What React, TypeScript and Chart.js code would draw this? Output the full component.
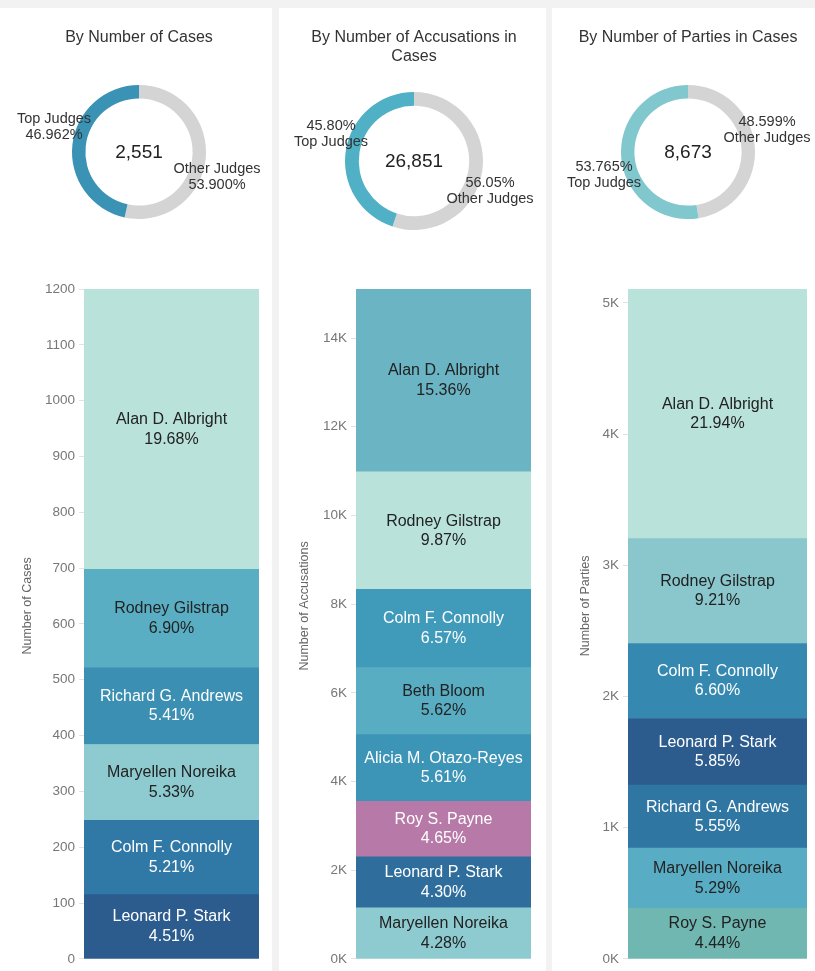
import React, { useEffect, useRef } from 'react';
import { Chart, registerables } from 'chart.js';

Chart.register(...registerables);

const FONT = "'Liberation Sans', Arial, Helvetica, sans-serif";
Chart.defaults.font.family = FONT;

// ---------- Panel 1: By Number of Cases ----------
const CASES_TITLE = ['By Number of Cases'];
const CASES_JUDGES = ['Alan D. Albright', 'Rodney Gilstrap', 'Richard G. Andrews', 'Maryellen Noreika', 'Colm F. Connolly', 'Leonard P. Stark'];
const CASES_VALUES = [502, 176, 138, 136, 133, 115];
const CASES_SHARES = ['19.68%', '6.90%', '5.41%', '5.33%', '5.21%', '4.51%'];
const CASES_AXIS_TITLE = 'Number of Cases';
const CASES_TICK_STEP = 100;
const CASES_DONUT_LABELS = ['Other Judges', 'Top Judges'];
const CASES_DONUT_VALUES = [53.9, 46.962];
const CASES_DONUT_TEXT = [['Other Judges', '53.900%'], ['Top Judges', '46.962%']];
const CASES_TOTAL = '2,551';

// ---------- Panel 2: By Number of Accusations in Cases ----------
const ACC_TITLE = ['By Number of Accusations in', 'Cases'];
const ACC_JUDGES = ['Alan D. Albright', 'Rodney Gilstrap', 'Colm F. Connolly', 'Beth Bloom', 'Alicia M. Otazo-Reyes', 'Roy S. Payne', 'Leonard P. Stark', 'Maryellen Noreika'];
const ACC_VALUES = [4124, 2650, 1764, 1509, 1506, 1249, 1155, 1149];
const ACC_SHARES = ['15.36%', '9.87%', '6.57%', '5.62%', '5.61%', '4.65%', '4.30%', '4.28%'];
const ACC_AXIS_TITLE = 'Number of Accusations';
const ACC_TICK_STEP = 2000;
const ACC_DONUT_LABELS = ['Other Judges', 'Top Judges'];
const ACC_DONUT_VALUES = [56.05, 45.8];
const ACC_DONUT_TEXT = [['56.05%', 'Other Judges'], ['45.80%', 'Top Judges']];
const ACC_TOTAL = '26,851';

// ---------- Panel 3: By Number of Parties in Cases ----------
const PARTY_TITLE = ['By Number of Parties in Cases'];
const PARTY_JUDGES = ['Alan D. Albright', 'Rodney Gilstrap', 'Colm F. Connolly', 'Leonard P. Stark', 'Richard G. Andrews', 'Maryellen Noreika', 'Roy S. Payne'];
const PARTY_VALUES = [1903, 799, 572, 507, 481, 459, 385];
const PARTY_SHARES = ['21.94%', '9.21%', '6.60%', '5.85%', '5.55%', '5.29%', '4.44%'];
const PARTY_AXIS_TITLE = 'Number of Parties';
const PARTY_TICK_STEP = 1000;
const PARTY_DONUT_LABELS = ['Other Judges', 'Top Judges'];
const PARTY_DONUT_VALUES = [48.599, 53.765];
const PARTY_DONUT_TEXT = [['48.599%', 'Other Judges'], ['53.765%', 'Top Judges']];
const PARTY_TOTAL = '8,673';

// ---------- Styles ----------
const DARK = '#222222';
const LIGHT = '#ffffff';
const OTHER_GRAY = '#d4d4d4';

const PANELS = [
  {
    title: CASES_TITLE, judges: CASES_JUDGES, values: CASES_VALUES, shares: CASES_SHARES,
    axisTitle: CASES_AXIS_TITLE, step: CASES_TICK_STEP, kFormat: false,
    donutLabels: CASES_DONUT_LABELS, donutValues: CASES_DONUT_VALUES, donutText: CASES_DONUT_TEXT, total: CASES_TOTAL,
    colors: ['#b9e3da', '#5aaec3', '#3b8fb3', '#8dcbd0', '#3079a6', '#2c5c8e'],
    textColors: [DARK, DARK, LIGHT, DARK, LIGHT, LIGHT],
    topColor: '#3a93b5',
    left: 0, width: 272,
    donutPad: { left: 72, right: 66, top: 77, bottom: 41 },
    labelPos: [{ dx: 78, dy: 17 }, { dx: -85, dy: -33 }],
    axisWidth: 84, padRight: 13, axisTitleX: 28,
  },
  {
    title: ACC_TITLE, judges: ACC_JUDGES, values: ACC_VALUES, shares: ACC_SHARES,
    axisTitle: ACC_AXIS_TITLE, step: ACC_TICK_STEP, kFormat: true,
    donutLabels: ACC_DONUT_LABELS, donutValues: ACC_DONUT_VALUES, donutText: ACC_DONUT_TEXT, total: ACC_TOTAL,
    colors: ['#6ab4c4', '#b9e3da', '#409bbb', '#59adc3', '#3c94b7', '#b77aa8', '#2f6e9c', '#8dcbd0'],
    textColors: [DARK, DARK, LIGHT, DARK, LIGHT, LIGHT, LIGHT, DARK],
    topColor: '#4fb0c6',
    left: 279, width: 267,
    donutPad: { left: 66, right: 63, top: 84, bottom: 30 },
    labelPos: [{ dx: 76, dy: 22 }, { dx: -83, dy: -35 }],
    axisWidth: 77, padRight: 15, axisTitleX: 26,
  },
  {
    title: PARTY_TITLE, judges: PARTY_JUDGES, values: PARTY_VALUES, shares: PARTY_SHARES,
    axisTitle: PARTY_AXIS_TITLE, step: PARTY_TICK_STEP, kFormat: true,
    donutLabels: PARTY_DONUT_LABELS, donutValues: PARTY_DONUT_VALUES, donutText: PARTY_DONUT_TEXT, total: PARTY_TOTAL,
    colors: ['#b9e3da', '#89c7cd', '#3589b0', '#2c5c8e', '#2f76a3', '#58adc4', '#70b7b2'],
    textColors: [DARK, DARK, LIGHT, LIGHT, LIGHT, DARK, DARK],
    topColor: '#80c8cd',
    left: 552, width: 263,
    donutPad: { left: 69, right: 60, top: 77, bottom: 41 },
    labelPos: [{ dx: 79, dy: -30 }, { dx: -84, dy: 15 }],
    axisWidth: 76, padRight: 8, axisTitleX: 34,
  },
];

type Panel = typeof PANELS[number];

const DONUT_TOP = 8;
const DONUT_H = 252;
const BAR_TOP = 270;
const BAR_H = 701;

function DonutChart({ p }: { p: Panel }) {
  const ref = useRef<HTMLCanvasElement>(null);
  useEffect(() => {
    const textPlugin = {
      id: 'donutText',
      afterDraw(chart: any) {
        const ctx = chart.ctx;
        const ca = chart.chartArea;
        const cx = (ca.left + ca.right) / 2;
        const cy = (ca.top + ca.bottom) / 2;
        ctx.save();
        ctx.textAlign = 'center';
        ctx.textBaseline = 'middle';
        ctx.fillStyle = '#333333';
        ctx.font = `16px ${FONT}`;
        p.title.forEach((line, i) => ctx.fillText(line, cx, 30 + i * 19));
        ctx.fillStyle = '#222222';
        ctx.font = `19px ${FONT}`;
        ctx.fillText(p.total, cx, cy + 1);
        ctx.fillStyle = '#333333';
        ctx.font = `14.5px ${FONT}`;
        p.donutText.forEach((lines, k) => {
          const pos = p.labelPos[k];
          lines.forEach((line, i) => ctx.fillText(line, cx + pos.dx, cy + pos.dy + i * 16));
        });
        ctx.restore();
      },
    };
    const chart = new Chart(ref.current!, {
      type: 'doughnut',
      data: {
        labels: p.donutLabels,
        datasets: [{ data: p.donutValues, backgroundColor: [OTHER_GRAY, p.topColor], borderWidth: 0 }],
      },
      options: {
        animation: false,
        responsive: false,
        maintainAspectRatio: false,
        cutout: '80%',
        layout: { padding: p.donutPad },
        plugins: { legend: { display: false }, tooltip: { enabled: false }, title: { display: false } },
      },
      plugins: [textPlugin],
    } as any);
    return () => chart.destroy();
  }, []);
  return (
    <canvas
      ref={ref}
      width={p.width}
      height={DONUT_H}
      style={{ position: 'absolute', left: p.left, top: DONUT_TOP, width: p.width, height: DONUT_H }}
    />
  );
}

function BarChart({ p }: { p: Panel }) {
  const ref = useRef<HTMLCanvasElement>(null);
  useEffect(() => {
    const datasets = p.judges
      .map((j, i) => ({
        label: j,
        data: [p.values[i]],
        backgroundColor: p.colors[i],
        borderWidth: 0,
        barPercentage: 1,
        categoryPercentage: 1,
      }))
      .reverse();
    const labelPlugin = {
      id: 'barLabels',
      afterDatasetsDraw(chart: any) {
        const ctx = chart.ctx;
        ctx.save();
        ctx.textAlign = 'center';
        ctx.textBaseline = 'middle';
        ctx.font = `16px ${FONT}`;
        chart.data.datasets.forEach((ds: any, di: number) => {
          const el = chart.getDatasetMeta(di).data[0];
          const idx = p.judges.indexOf(ds.label);
          const mid = (el.y + el.base) / 2;
          ctx.fillStyle = p.textColors[idx];
          ctx.fillText(ds.label, el.x, mid - 9.5);
          ctx.fillText(p.shares[idx], el.x, mid + 10);
        });
        // axis title
        const ca = chart.chartArea;
        ctx.translate(p.axisTitleX, (ca.top + ca.bottom) / 2 - 18);
        ctx.rotate(-Math.PI / 2);
        ctx.fillStyle = '#666666';
        ctx.font = `12.5px ${FONT}`;
        ctx.fillText(p.axisTitle, 0, 0);
        ctx.restore();
      },
    };
    const chart = new Chart(ref.current!, {
      type: 'bar',
      data: { labels: [''], datasets },
      options: {
        animation: false,
        responsive: false,
        maintainAspectRatio: false,
        layout: { padding: { top: 19, bottom: 12, left: 0, right: p.padRight } },
        scales: {
          x: { stacked: true, display: false },
          y: {
            stacked: true,
            min: 0,
            bounds: 'data',
            afterFit: (s: any) => { s.width = p.axisWidth; },
            afterBuildTicks: (s: any) => {
              const out: { value: number }[] = [];
              for (let v = 0; v <= s.max + 1e-9; v += p.step) out.push({ value: v });
              s.ticks = out;
            },
            ticks: {
              stepSize: p.step,
              color: '#777777',
              font: { size: 13.5 },
              padding: 4,
              autoSkip: false,
              callback: (v: any) => (p.kFormat ? `${Number(v) / 1000}K` : `${v}`),
            },
            grid: { drawOnChartArea: false, drawTicks: true, tickLength: 5, color: '#e2e2e2' },
            border: { display: false },
            title: { display: false },
          },
        },
        plugins: { legend: { display: false }, tooltip: { enabled: false } },
      },
      plugins: [labelPlugin],
    } as any);
    return () => chart.destroy();
  }, []);
  return (
    <canvas
      ref={ref}
      width={p.width}
      height={BAR_H}
      style={{ position: 'absolute', left: p.left, top: BAR_TOP, width: p.width, height: BAR_H }}
    />
  );
}

export default function App() {
  return (
    <div
      style={{
        position: 'absolute',
        left: 0,
        top: 0,
        width: 815,
        height: 971,
        background: '#f2f2f2',
        overflow: 'hidden',
        fontFamily: FONT,
      }}
    >
      {PANELS.map((p, i) => (
        <div
          key={`bg${i}`}
          style={{ position: 'absolute', left: p.left, top: 8, width: p.width, height: 963, background: '#ffffff' }}
        />
      ))}
      {PANELS.map((p, i) => (
        <DonutChart key={`d${i}`} p={p} />
      ))}
      {PANELS.map((p, i) => (
        <BarChart key={`b${i}`} p={p} />
      ))}
    </div>
  );
}
